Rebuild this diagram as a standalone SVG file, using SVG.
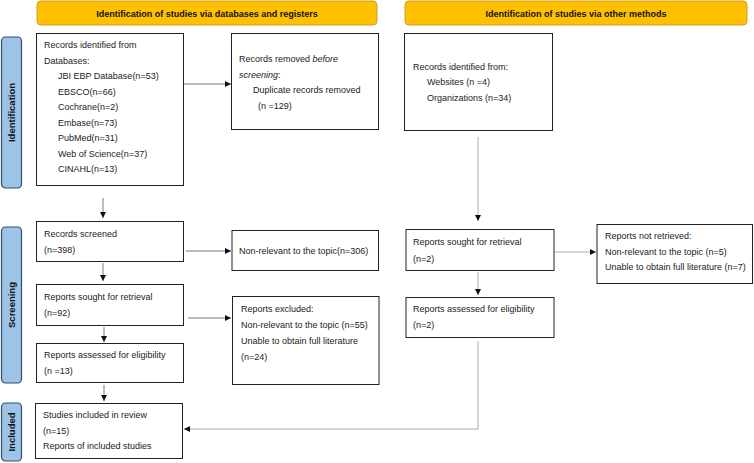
<svg xmlns="http://www.w3.org/2000/svg" width="754" height="463" viewBox="0 0 754 463">
<defs>
<style>
text{font-family:"Liberation Sans",Arial,sans-serif;font-size:9px;fill:#222}
.hdr rect{fill:#FFC000;stroke:#C9A227;stroke-width:1}
.hdr text{font-weight:bold;font-size:9px;text-anchor:middle;fill:#111}
.side rect{fill:#9DC3E6;stroke:#2F4F6F;stroke-width:1.2}
.side text{font-weight:bold;font-size:9.5px;text-anchor:middle;fill:#111}
.box rect{fill:#fff;stroke:#222;stroke-width:1}
.conn line,.conn polyline{stroke:#555;stroke-width:0.8;fill:none}
.conn .g{stroke:#999}
</style>
<marker id="ah" viewBox="0 0 10 10" refX="10" refY="5" markerWidth="6" markerHeight="6" orient="auto" markerUnits="userSpaceOnUse">
<path d="M0,0 L10,5 L0,10 z" fill="#111"/>
</marker>
</defs>
<rect width="754" height="463" fill="#fff"/>

<g id="hdr1" class="hdr"><rect x="37" y="1" width="340" height="24" rx="4"/><text x="207" y="17">Identification of studies via databases and registers</text></g>
<g id="hdr2" class="hdr"><rect x="405" y="1" width="342" height="24" rx="4"/><text x="576" y="17">Identification of studies via other methods</text></g>

<g id="side-identification" class="side"><rect x="1.5" y="37" width="20" height="151" rx="4"/><text transform="translate(15,112.5) rotate(-90)">Identification</text></g>
<g id="side-screening" class="side"><rect x="1.5" y="227" width="20" height="156" rx="4"/><text transform="translate(15,305) rotate(-90)">Screening</text></g>
<g id="side-included" class="side"><rect x="1.5" y="403" width="20" height="58" rx="4"/><text transform="translate(15,432) rotate(-90)">Included</text></g>

<g id="records-identified" class="box"><rect x="36.5" y="33.5" width="147" height="152"/>
<text x="44" y="48">Records identified from</text>
<text x="44" y="63.5">Databases:</text>
<text x="58" y="79">JBI EBP Database(n=53)</text>
<text x="58" y="94.5">EBSCO(n=66)</text>
<text x="58" y="110">Cochrane(n=2)</text>
<text x="58" y="125.5">Embase(n=73)</text>
<text x="58" y="141">PubMed(n=31)</text>
<text x="58" y="156.5">Web of Science(n=37)</text>
<text x="58" y="172">CINAHL(n=13)</text>
</g>

<g id="records-removed" class="box"><rect x="231.5" y="33.5" width="147" height="96"/>
<text x="239" y="62">Records removed <tspan font-style="italic">before</tspan></text>
<text x="239" y="77.5"><tspan font-style="italic">screening</tspan>:</text>
<text x="253" y="93">Duplicate records removed</text>
<text x="258" y="108.5">(n =129)</text>
</g>

<g id="records-other" class="box"><rect x="404.5" y="33.5" width="148" height="97"/>
<text x="413" y="69.5">Records identified from:</text>
<text x="427" y="85">Websites (n =4)</text>
<text x="427" y="100.5">Organizations (n=34)</text>
</g>

<g id="records-screened" class="box"><rect x="36.5" y="221.5" width="147" height="40"/>
<text x="44" y="237">Records screened</text>
<text x="44" y="253">(n=398)</text>
</g>

<g id="non-relevant" class="box"><rect x="232" y="230.5" width="146.5" height="40"/>
<text x="239" y="254">Non-relevant to the topic(n=306)</text>
</g>

<g id="reports-sought" class="box"><rect x="36.5" y="284.5" width="147" height="41"/>
<text x="44" y="300">Reports sought for retrieval</text>
<text x="44" y="315.5">(n=92)</text>
</g>

<g id="reports-excluded" class="box"><rect x="232.5" y="296.5" width="146.5" height="88"/>
<text x="241" y="312">Reports excluded:</text>
<text x="241" y="328">Non-relevant to the topic (n=55)</text>
<text x="241" y="344">Unable to obtain full literature</text>
<text x="241" y="360">(n=24)</text>
</g>

<g id="reports-assessed" class="box"><rect x="36.5" y="343.5" width="147" height="39"/>
<text x="44" y="358">Reports assessed for eligibility</text>
<text x="44" y="374">(n =13)</text>
</g>

<g id="studies-included" class="box"><rect x="35.5" y="403.5" width="147" height="55"/>
<text x="43" y="418">Studies included in review</text>
<text x="43" y="433.5">(n=15)</text>
<text x="43" y="449">Reports of included studies</text>
</g>

<g id="reports-sought-other" class="box"><rect x="406" y="229.5" width="148" height="41"/>
<text x="413" y="245">Reports sought for retrieval</text>
<text x="413" y="262">(n=2)</text>
</g>

<g id="reports-not-retrieved" class="box"><rect x="597" y="224.5" width="155.5" height="59"/>
<text x="605" y="239">Reports not retrieved:</text>
<text x="605" y="254.5">Non-relevant to the topic (n=5)</text>
<text x="605" y="270">Unable to obtain full literature (n=7)</text>
</g>

<g id="reports-assessed-other" class="box"><rect x="406" y="297.5" width="148" height="40"/>
<text x="413" y="312">Reports assessed for eligibility</text>
<text x="413" y="328">(n=2)</text>
</g>

<g id="connectors" class="conn">
<line x1="184" y1="84" x2="231" y2="84" marker-end="url(#ah)"/>
<line x1="103" y1="198" x2="103" y2="218" marker-end="url(#ah)"/>
<line x1="186" y1="251" x2="231" y2="251" marker-end="url(#ah)"/>
<line x1="103" y1="263" x2="103" y2="281" marker-end="url(#ah)"/>
<line x1="188" y1="318" x2="231" y2="318" marker-end="url(#ah)"/>
<line x1="104" y1="327" x2="104" y2="342" marker-end="url(#ah)"/>
<line x1="104" y1="385" x2="104" y2="401" marker-end="url(#ah)"/>
<line class="g" x1="478" y1="137" x2="478" y2="221" marker-end="url(#ah)"/>
<line class="g" x1="555" y1="252" x2="596" y2="252" marker-end="url(#ah)"/>
<line class="g" x1="478" y1="272" x2="478" y2="295" marker-end="url(#ah)"/>
<polyline class="g" points="478,341 478,429 184,429" marker-end="url(#ah)"/>
</g>
</svg>
